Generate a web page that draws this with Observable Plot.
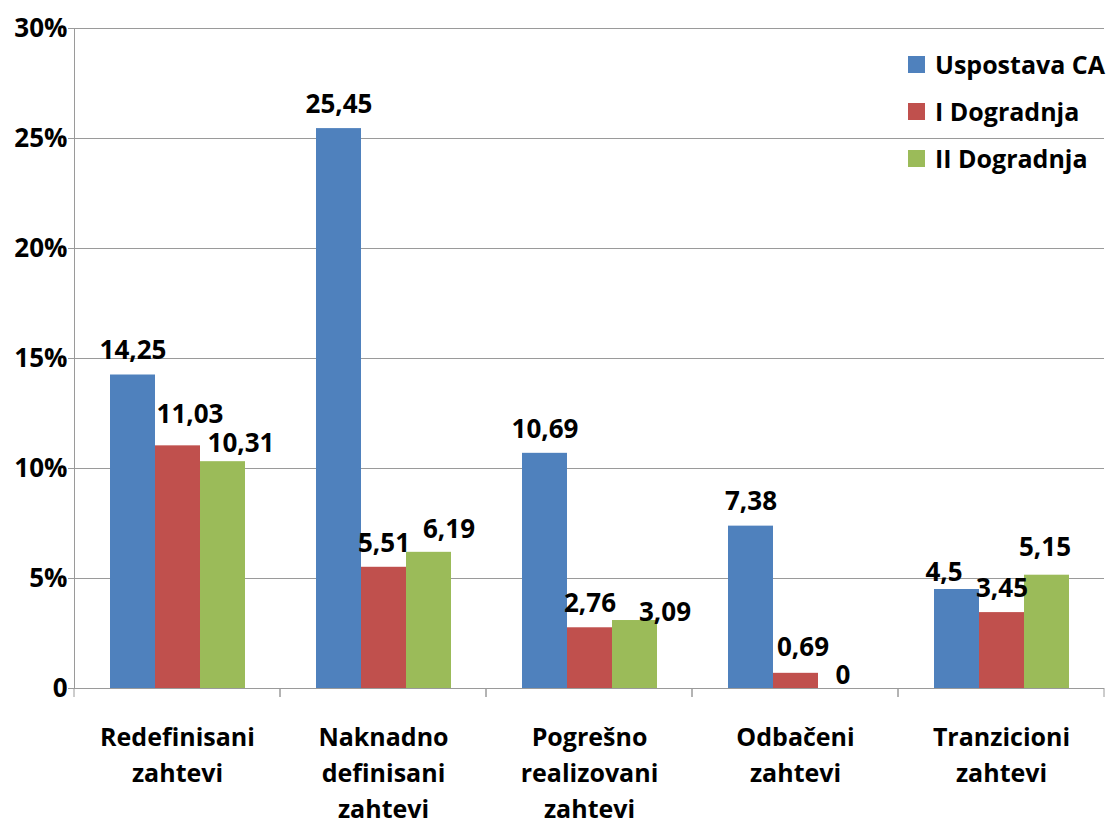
<!DOCTYPE html>
<html>
<head>
<meta charset="utf-8">
<script src="https://cdn.jsdelivr.net/npm/d3@7"></script>
<script src="https://cdn.jsdelivr.net/npm/@observablehq/plot@0.6"></script>
<style>
  body { margin: 0; background: #fff; }
  #chart { position: relative; width: 1108px; height: 826px; font-family: "Open Sans", sans-serif; font-weight: 700; color: #000; }
  #chart svg { display: block; }
  .legend { position: absolute; left: 908px; top: 52px; }
  .legend .row { position: absolute; left: 0; height: 24px; display: flex; align-items: center; white-space: nowrap; font-size: 25px; line-height: 24px; }
  .legend .sw { width: 17px; height: 17px; margin-right: 10px; flex: none; }
</style>
</head>
<body>
<div id="chart"></div>
<script>
// Categories (multi-line axis labels) and the three series
const categories = [
  "Redefinisani\nzahtevi",
  "Naknadno\ndefinisani\nzahtevi",
  "Pogrešno\nrealizovani\nzahtevi",
  "Odbačeni\nzahtevi",
  "Tranzicioni\nzahtevi"
];
const series = ["Uspostava CA", "I Dogradnja", "II Dogradnja"];
const colors = ["#4F81BD", "#C0504D", "#9BBB59"];

// Percent values per series, in category order
const uspostavaCA   = [14.25, 25.45, 10.69, 7.38, 4.5];
const prvaDogradnja = [11.03, 5.51, 2.76, 0.69, 3.45];
const drugaDogradnja = [10.31, 6.19, 3.09, 0, 5.15];

const yTicks = [0, 5, 10, 15, 20, 25, 30];

const seriesValues = [uspostavaCA, prvaDogradnja, drugaDogradnja];
const rows = categories.flatMap((c, i) =>
  series.map((s, j) => ({ category: c, series: s, value: seriesValues[j][i], ci: i, si: j }))
);

const fmt = v => String(v).replace(".", ",");

// hand-placed label adjustments (px) where neighbouring labels would collide
const labelNudge = {
  "0-1": [12, -7], "0-2": [18, 6],
  "1-2": [20, 1],
  "2-2": [30, 16],
  "3-1": [7, -2], "3-2": [2, 11],
  "4-0": [-13, 7], "4-2": [-2, -4]
};

const gridColor = "#9a9a9a";

// small tick marks at the category boundaries below the baseline
function boundaryTicks(index, scales, values, dims) {
  const y0 = scales.y(0);
  const left = dims.marginLeft;
  const right = left + scales.fx.bandwidth();
  const g = d3.create("svg:g").attr("stroke", gridColor);
  for (const x of [left, right]) {
    g.append("line").attr("x1", x).attr("x2", x).attr("y1", y0).attr("y2", y0 + 9);
  }
  return g.node();
}

const labelMarks = rows.map(d => {
  const [dx, dy] = labelNudge[`${d.ci}-${d.si}`] || [0, 0];
  return Plot.text([d], {
    fx: "category", x: "series", y: "value",
    text: r => fmt(r.value),
    dx, dy: dy - 24, fill: "#000", fontSize: 26
  });
});

const chart = Plot.plot({
  width: 1108,
  height: 826,
  marginLeft: 72,
  marginRight: 3,
  marginTop: 28,
  marginBottom: 138,
  style: { fontFamily: '"Open Sans", sans-serif', fontSize: "25px", fontWeight: "700", color: "#000", background: "#fff", overflow: "visible" },
  fx: { domain: categories, padding: 0, label: null },
  x: { domain: series, paddingInner: 0, paddingOuter: 0.76, axis: null },
  y: { domain: [0, 30], label: null },
  color: { domain: series, range: colors },
  marks: [
    Plot.gridY(yTicks, { stroke: gridColor, strokeOpacity: 1 }),
    Plot.barY(rows, { fx: "category", x: "series", y: "value", fill: "series" }),
    Plot.ruleY([0], { stroke: gridColor }),
    Plot.frame({ anchor: "left", facetAnchor: "left", stroke: gridColor }),
    Plot.axisY(yTicks, { tickSize: 6, tickPadding: 1, stroke: gridColor, label: null, fontSize: 26, tickFormat: d => d === 0 ? "0" : d + "%" }),
    Plot.axisFx({ anchor: "bottom", tickSize: 0, tickPadding: 32, lineHeight: 1.44, label: null }),
    ...labelMarks,
    boundaryTicks
  ]
});

const root = document.getElementById("chart");
root.appendChild(chart);

// legend, stacked vertically at the top right
const legend = d3.select(root).append("div").attr("class", "legend");
series.forEach((s, i) => {
  const row = legend.append("div").attr("class", "row").style("top", `${i * 47}px`);
  row.append("div").attr("class", "sw").style("background", colors[i]);
  row.append("span").text(s);
});
</script>
</body>
</html>
